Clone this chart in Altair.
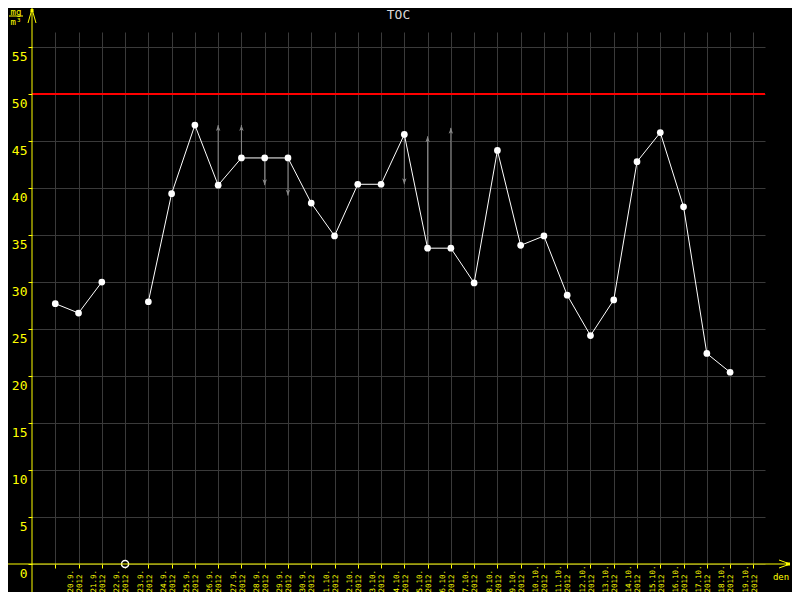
import altair as alt
import pandas as pd

# ---- data ----
dates = ["20.9.", "21.9.", "22.9.", "23.9.", "24.9.", "25.9.", "26.9.", "27.9.", "28.9.", "29.9.",
         "30.9.", "1.10.", "2.10.", "3.10.", "4.10.", "5.10.", "6.10.", "7.10.", "8.10.", "9.10.",
         "10.10.", "11.10.", "12.10.", "13.10.", "14.10.", "15.10.", "16.10.", "17.10.", "18.10.", "19.10."]
year = "2012"
toc = [27.7, 26.7, 30.0, None, 27.9, 39.4, 46.7, 40.3, 43.2, 43.2,
       43.2, 38.4, 34.9, 40.4, 40.4, 45.7, 33.6, 33.6, 29.9, 44.0,
       33.9, 34.9, 28.6, 24.3, 28.1, 42.8, 45.9, 38.0, 22.4, 20.4]
arrow_days = [7, 8, 9, 10, 15, 16, 17]
arrow_tips = [46.7, 46.7, 40.3, 39.2, 40.4, 45.5, 46.4]
limit = 50
y_ticks = list(range(0, 56, 5))
title = "TOC"
unit_top, unit_bottom = "mg", "m³"
x_title = "den"

# ---- tables ----
rows, seg = [], 0
for i, v in enumerate(toc):
    if v is None:
        seg += 1
        continue
    rows.append({"day": i, "value": v, "seg": seg})
df = pd.DataFrame(rows)
missing = pd.DataFrame({"day": [i for i, v in enumerate(toc) if v is None],
                        "value": [0 for v in toc if v is None]})
arr = pd.DataFrame({"day": arrow_days,
                    "value": [toc[d] for d in arrow_days],
                    "to": arrow_tips})
arr["dir"] = ["up" if t > f else "down" for f, t in zip(arr["value"], arr["to"])]
lim = pd.DataFrame({"value": [limit]})

MONO = "DejaVu Sans Mono"
YEL = "#ffff00"
GRID = "#3a3a3a"
W, H = 733, 532

xs = alt.Scale(domain=[-1, 30.5], nice=False, zero=False)
ys = alt.Scale(domain=[0, 56.6], nice=False, zero=False)

label_arr = "[" + ",".join(f"['{d}','{year}']" for d in dates) + "]"
xaxis = alt.Axis(values=list(range(len(dates) + 1)), domain=False, grid=True, gridColor=GRID,
                 gridWidth=1, tickColor=YEL, tickSize=4, tickWidth=1, labelColor=YEL,
                 labelFont=MONO, labelFontSize=7.5, labelAngle=270, labelAlign="left",
                 labelBaseline="middle", labelPadding=24, labelOffset=15, labelLineHeight=9,
                 labelOverlap=False, labelBound=False, labelFlush=False,
                 labelExpr=f"datum.value < {len(dates)} ? {label_arr}[datum.value] : ''",
                 title=None)
yaxis = alt.Axis(values=y_ticks, domain=False, grid=True, gridColor=GRID, gridWidth=1,
                 tickColor=YEL, tickSize=4, tickWidth=1, labelColor=YEL, labelFont=MONO,
                 labelFontSize=13, labelPadding=1, labelBaseline="top", labelOffset=3,
                 labelOverlap=False, labelFlush=False, title=None)

X = alt.X("day:Q", scale=xs, axis=xaxis, title=None)
Y = alt.Y("value:Q", scale=ys, axis=yaxis, title=None)

limit_rule = alt.Chart(lim).mark_rule(color="#ff0000", strokeWidth=2).encode(y=Y)
line = alt.Chart(df).mark_line(color="white", strokeWidth=1).encode(x=X, y=Y, detail="seg:N")
pts = alt.Chart(df).mark_circle(size=45, color="white", opacity=1).encode(x=X, y=Y)
arrow_lines = alt.Chart(arr).mark_rule(color="#888888", strokeWidth=1).encode(x=X, y=Y, y2="to:Q")
UP = "M0,0L-0.55,1.5L0,1.1L0.55,1.5Z"
DOWN = "M0,0L-0.55,-1.5L0,-1.1L0.55,-1.5Z"
YT = alt.Y("to:Q", scale=ys, axis=yaxis, title=None)
heads_up = alt.Chart(arr).transform_filter("datum.dir == 'up'").mark_point(
    shape=UP, filled=True, size=64, color="#888888", opacity=1).encode(x=X, y=YT)
heads_down = alt.Chart(arr).transform_filter("datum.dir == 'down'").mark_point(
    shape=DOWN, filled=True, size=64, color="#888888", opacity=1).encode(x=X, y=YT)
miss = alt.Chart(missing).mark_point(shape="circle", filled=False, size=50, color="white",
                                     fill="black", fillOpacity=1, strokeWidth=1.5).encode(x=X, y=Y)

dummy = pd.DataFrame({"a": [0]})


def seg_rule(x1, y1, x2, y2, width=1, color=YEL):
    return alt.Chart(dummy).mark_rule(color=color, strokeWidth=width).encode(
        x=alt.value(x1), y=alt.value(y1), x2=alt.value(x2), y2=alt.value(y2))


def label(txt, x, y, size, color=YEL, align="center", baseline="middle"):
    return alt.Chart(dummy).mark_text(text=txt, font=MONO, fontSize=size, color=color,
                                      align=align, baseline=baseline).encode(
        x=alt.value(x), y=alt.value(y))


decor = [
    seg_rule(0, -24, 0, H + 28),            # y axis line
    seg_rule(-24, H, W + 25, H),            # x axis line
    seg_rule(-4, -9, 0, -23),               # top arrow arms
    seg_rule(4, -9, 0, -23),
    seg_rule(0, -23, 0, -20, width=3),
    seg_rule(W + 14, H - 4, W + 25, H),     # right arrow arms
    seg_rule(W + 14, H + 4, W + 25, H),
    seg_rule(W + 21, H, W + 25, H, width=3),
    seg_rule(-23, -16, -9, -16, width=1),   # unit fraction bar
    label(unit_top, -16, -20, 9),
    label(unit_bottom, -16, -10, 9),
    label(x_title, W + 16, H + 13, 9),
    label(title, W / 2, -23.5, 13, color="#d8d8d8", baseline="top"),
]

chart = alt.layer(limit_rule, arrow_lines, heads_up, heads_down, line, pts, miss, *decor).properties(
    width=W, height=H,
    padding={"left": 24, "top": 24, "right": 27, "bottom": 28},
    autosize=alt.AutoSizeParams(type="none"),
    background="black",
).configure_view(strokeWidth=0)

chart.save("out.html", embed_options={"renderer": "svg", "actions": False})
